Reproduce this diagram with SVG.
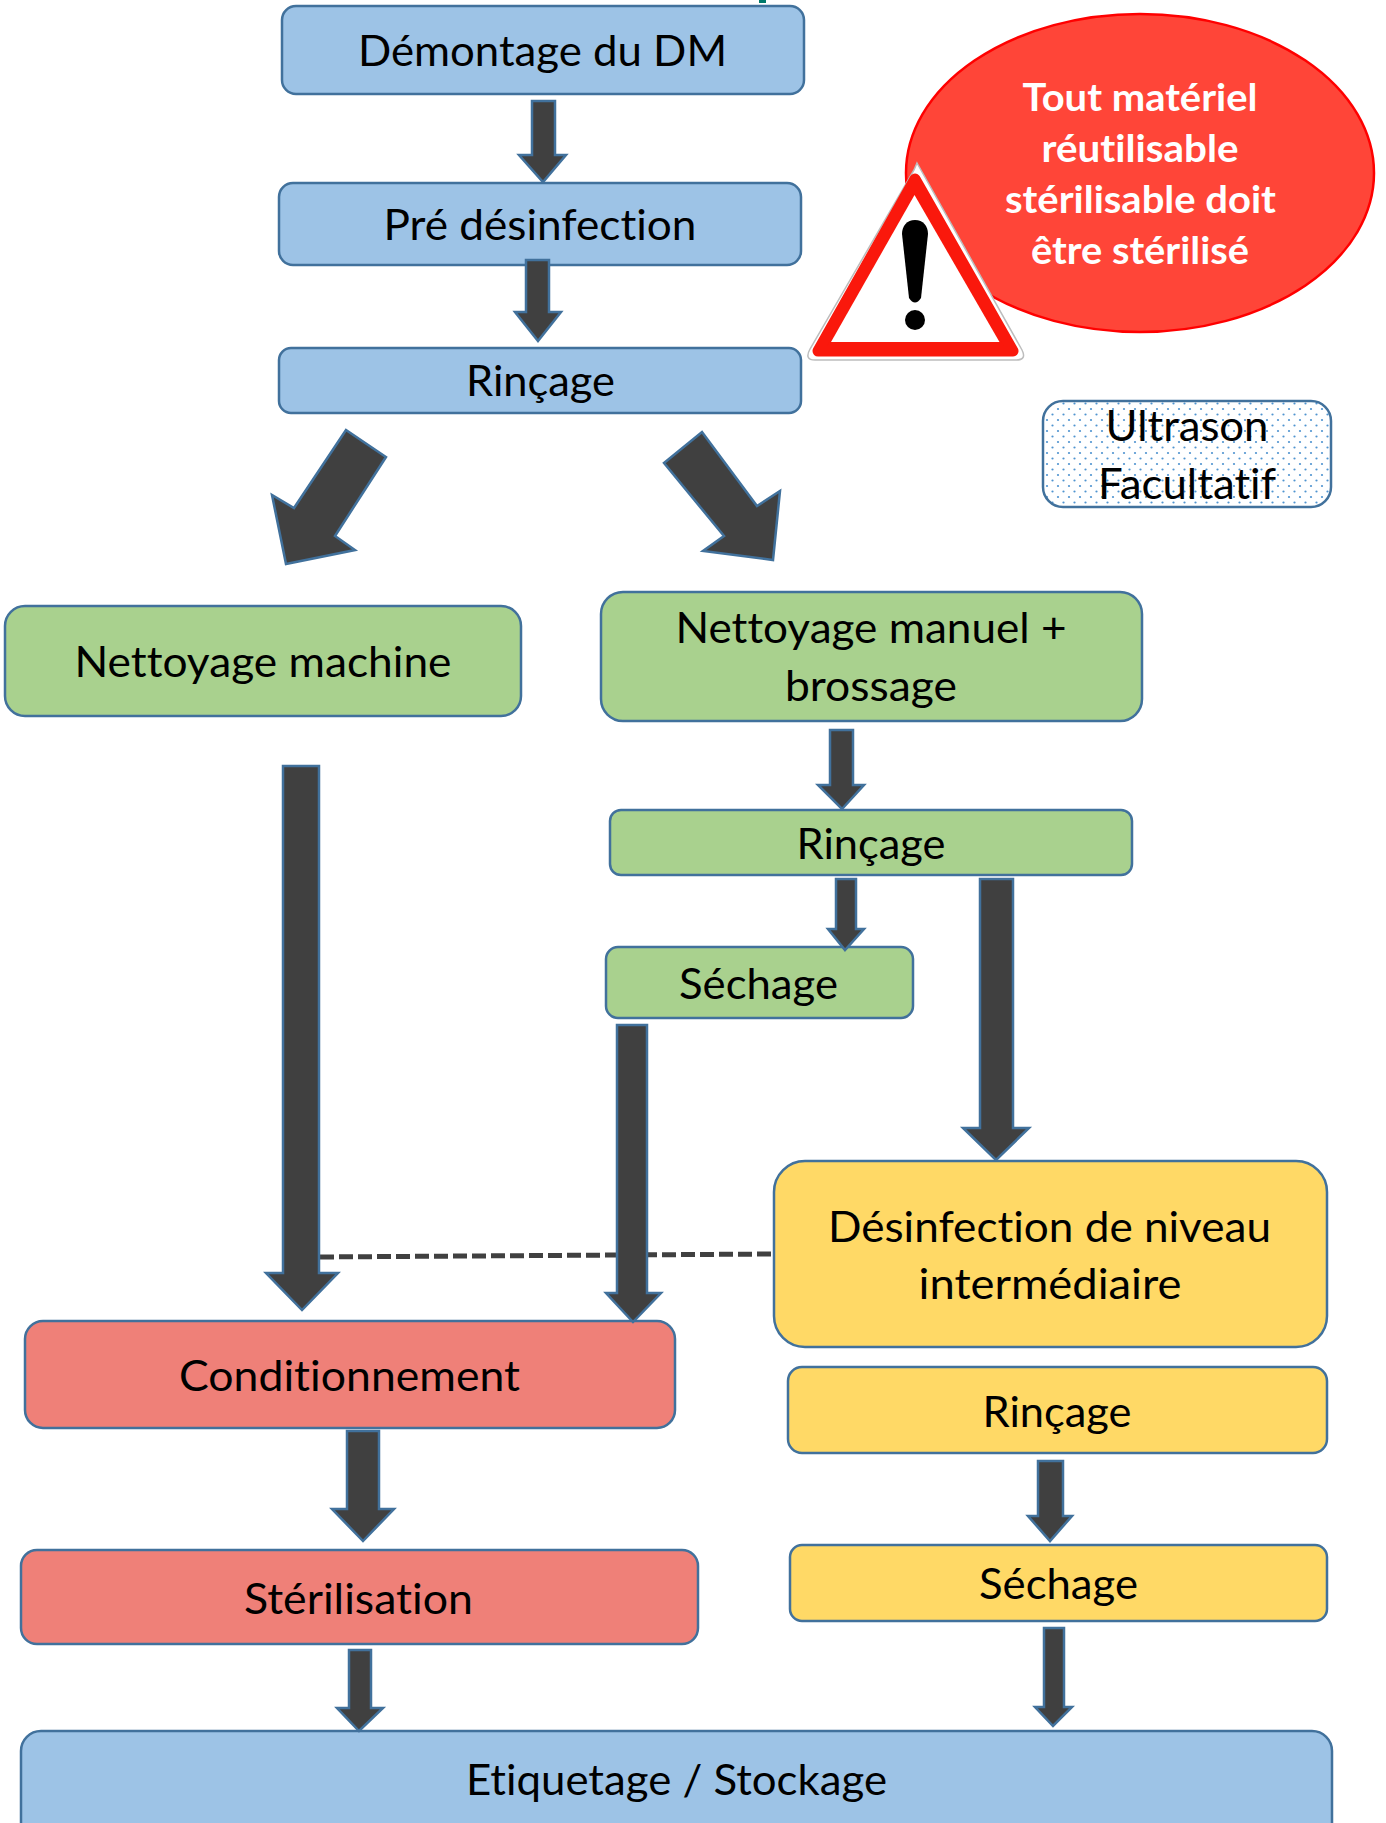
<svg xmlns="http://www.w3.org/2000/svg" width="1386" height="1823" viewBox="0 0 1386 1823">
<style>
.n{stroke:#41719C;stroke-width:2.5}
.b{fill:#9DC3E6}.g{fill:#A9D18E}.y{fill:#FFD966}.r{fill:#EF8078}
.a{fill:#404040;stroke:#41719C;stroke-width:2.5}
text{font-family:"Lato","Liberation Sans",sans-serif;font-size:43px;fill:#000;text-anchor:middle;font-variant-ligatures:none}
.w{font-size:38px;font-weight:700;fill:#fff}
</style>
<defs>
<pattern id="dots" width="11" height="11" patternUnits="userSpaceOnUse">
<rect width="11" height="11" fill="#fff"/>
<circle cx="2" cy="2" r="1.1" fill="#4F94D0"/><circle cx="7.5" cy="7.5" r="1.1" fill="#4F94D0"/>
</pattern>
</defs>
<rect width="1386" height="1823" fill="#fff"/>
<rect x="759" y="0" width="7" height="3" fill="#00796B"/>

<g id="demontage"><rect class="n b" x="282" y="6" width="522" height="88" rx="14"/><text x="542.5" y="66" textLength="369" lengthAdjust="spacingAndGlyphs">Démontage du DM</text></g>
<g id="pre-desinfection"><rect class="n b" x="279" y="183" width="522" height="82" rx="14"/><text x="540" y="240" textLength="313" lengthAdjust="spacingAndGlyphs">Pré désinfection</text></g>
<g id="rincage-1"><rect class="n b" x="279" y="348" width="522" height="65" rx="12"/><text x="540.5" y="396" textLength="149" lengthAdjust="spacingAndGlyphs">Rinçage</text></g>
<g id="ultrason"><rect x="1043" y="401" width="288" height="106" rx="20" fill="url(#dots)" stroke="#41719C" stroke-width="2.5"/><text x="1187" y="441" textLength="163" lengthAdjust="spacingAndGlyphs">Ultrason</text><text x="1187" y="499" textLength="178" lengthAdjust="spacingAndGlyphs">Facultatif</text></g>
<g id="nettoyage-machine"><rect class="n g" x="5" y="606" width="516" height="110" rx="20"/><text x="263" y="677" textLength="377" lengthAdjust="spacingAndGlyphs">Nettoyage machine</text></g>
<g id="nettoyage-manuel"><rect class="n g" x="601" y="592" width="541" height="129" rx="22"/><text x="871" y="643" textLength="391" lengthAdjust="spacingAndGlyphs">Nettoyage manuel +</text><text x="871" y="701" textLength="172" lengthAdjust="spacingAndGlyphs">brossage</text></g>
<g id="rincage-2"><rect class="n g" x="610" y="810" width="522" height="65" rx="11"/><text x="871" y="859" textLength="149" lengthAdjust="spacingAndGlyphs">Rinçage</text></g>
<g id="sechage-1"><rect class="n g" x="606" y="947" width="307" height="71" rx="12"/><text x="758.5" y="999" textLength="159" lengthAdjust="spacingAndGlyphs">Séchage</text></g>
<g id="desinfection"><rect class="n y" x="774" y="1161" width="553" height="186" rx="31"/><text x="1049.5" y="1242" textLength="443" lengthAdjust="spacingAndGlyphs">Désinfection de niveau</text><text x="1050" y="1299" textLength="263" lengthAdjust="spacingAndGlyphs">intermédiaire</text></g>
<g id="rincage-3"><rect class="n y" x="788" y="1367" width="539" height="86" rx="14"/><text x="1057" y="1427" textLength="149" lengthAdjust="spacingAndGlyphs">Rinçage</text></g>
<g id="sechage-2"><rect class="n y" x="790" y="1545" width="537" height="76" rx="12"/><text x="1058.5" y="1599" textLength="159" lengthAdjust="spacingAndGlyphs">Séchage</text></g>
<g id="conditionnement"><rect class="n r" x="25" y="1321" width="650" height="107" rx="18"/><text x="349.5" y="1391" textLength="341" lengthAdjust="spacingAndGlyphs">Conditionnement</text></g>
<g id="sterilisation"><rect class="n r" x="21" y="1550" width="677" height="94" rx="16"/><text x="358.5" y="1614" textLength="229" lengthAdjust="spacingAndGlyphs">Stérilisation</text></g>
<g id="etiquetage"><rect class="n b" x="21" y="1731" width="1311" height="120" rx="20"/><text x="676.5" y="1795" textLength="421" lengthAdjust="spacingAndGlyphs">Etiquetage / Stockage</text></g>

<g id="bulle"><ellipse cx="1140" cy="173" rx="234" ry="159" fill="#FF4538" stroke="#FF0000" stroke-width="2.5"/>
<text class="w" x="1140" y="111" textLength="235" lengthAdjust="spacingAndGlyphs">Tout matériel</text>
<text class="w" x="1140" y="162" textLength="197" lengthAdjust="spacingAndGlyphs">réutilisable</text>
<text class="w" x="1140.5" y="213" textLength="271" lengthAdjust="spacingAndGlyphs">stérilisable doit</text>
<text class="w" x="1140" y="264" textLength="218" lengthAdjust="spacingAndGlyphs">être stérilisé</text></g>

<g id="panneau">
<path d="M917 163L1022 350Q1027 360 1016 360H815Q804 360 810 349L914 170Z" fill="#fff" stroke="#BDBDBD" stroke-width="1.5"/>
<polygon points="915,179 1013,351 818,351" fill="#FA180C" stroke="#FA180C" stroke-width="11" stroke-linejoin="round"/>
<polygon points="914.5,195 999.5,342 831,342" fill="#fff"/>
<path d="M915 220C907 220 902 226 902 234L909 298Q915 307 921 298L928 234C928 226 923 220 915 220Z" fill="#000"/>
<circle cx="915" cy="320" r="10" fill="#000"/>
</g>

<g id="connectors">
<path d="M320 1257L773 1254" fill="none" stroke="#404040" stroke-width="5" stroke-dasharray="14 5"/>
<polygon class="a" points="532,101 555,101 555,155 566,155 543,182 519,155 532,155"/>
<polygon class="a" points="526,260 549,260 549,312 561,312 538,341 515,312 526,312"/>
<polygon class="a" points="346,430 386,457 335,536 355,550 286,564 272,495 294,508"/>
<polygon class="a" points="664,463 702,432 757,506 780,491 773,560 703,551 724,536"/>
<polygon class="a" points="283,766 319,766 319,1273 338,1273 302,1310 266,1273 283,1273"/>
<polygon class="a" points="830,730 853,730 853,785 864,785 842,809 818,785 830,785"/>
<polygon class="a" points="836,879 856,879 856,929 864,929 845,950 828,929 836,929"/>
<polygon class="a" points="980,879 1013,879 1013,1128 1029,1128 996,1160 963,1128 980,1128"/>
<polygon class="a" points="617,1025 647,1025 647,1293 661,1293 633,1322 606,1293 617,1293"/>
<polygon class="a" points="347,1431 379,1431 379,1509 394,1509 363,1541 332,1509 347,1509"/>
<polygon class="a" points="1038,1461 1063,1461 1063,1516 1072,1516 1050,1541 1028,1516 1038,1516"/>
<polygon class="a" points="349,1650 371,1650 371,1708 383,1708 359,1731 337,1708 349,1708"/>
<polygon class="a" points="1044,1628 1064,1628 1064,1707 1072,1707 1053,1726 1035,1707 1044,1707"/>
</g>
</svg>
